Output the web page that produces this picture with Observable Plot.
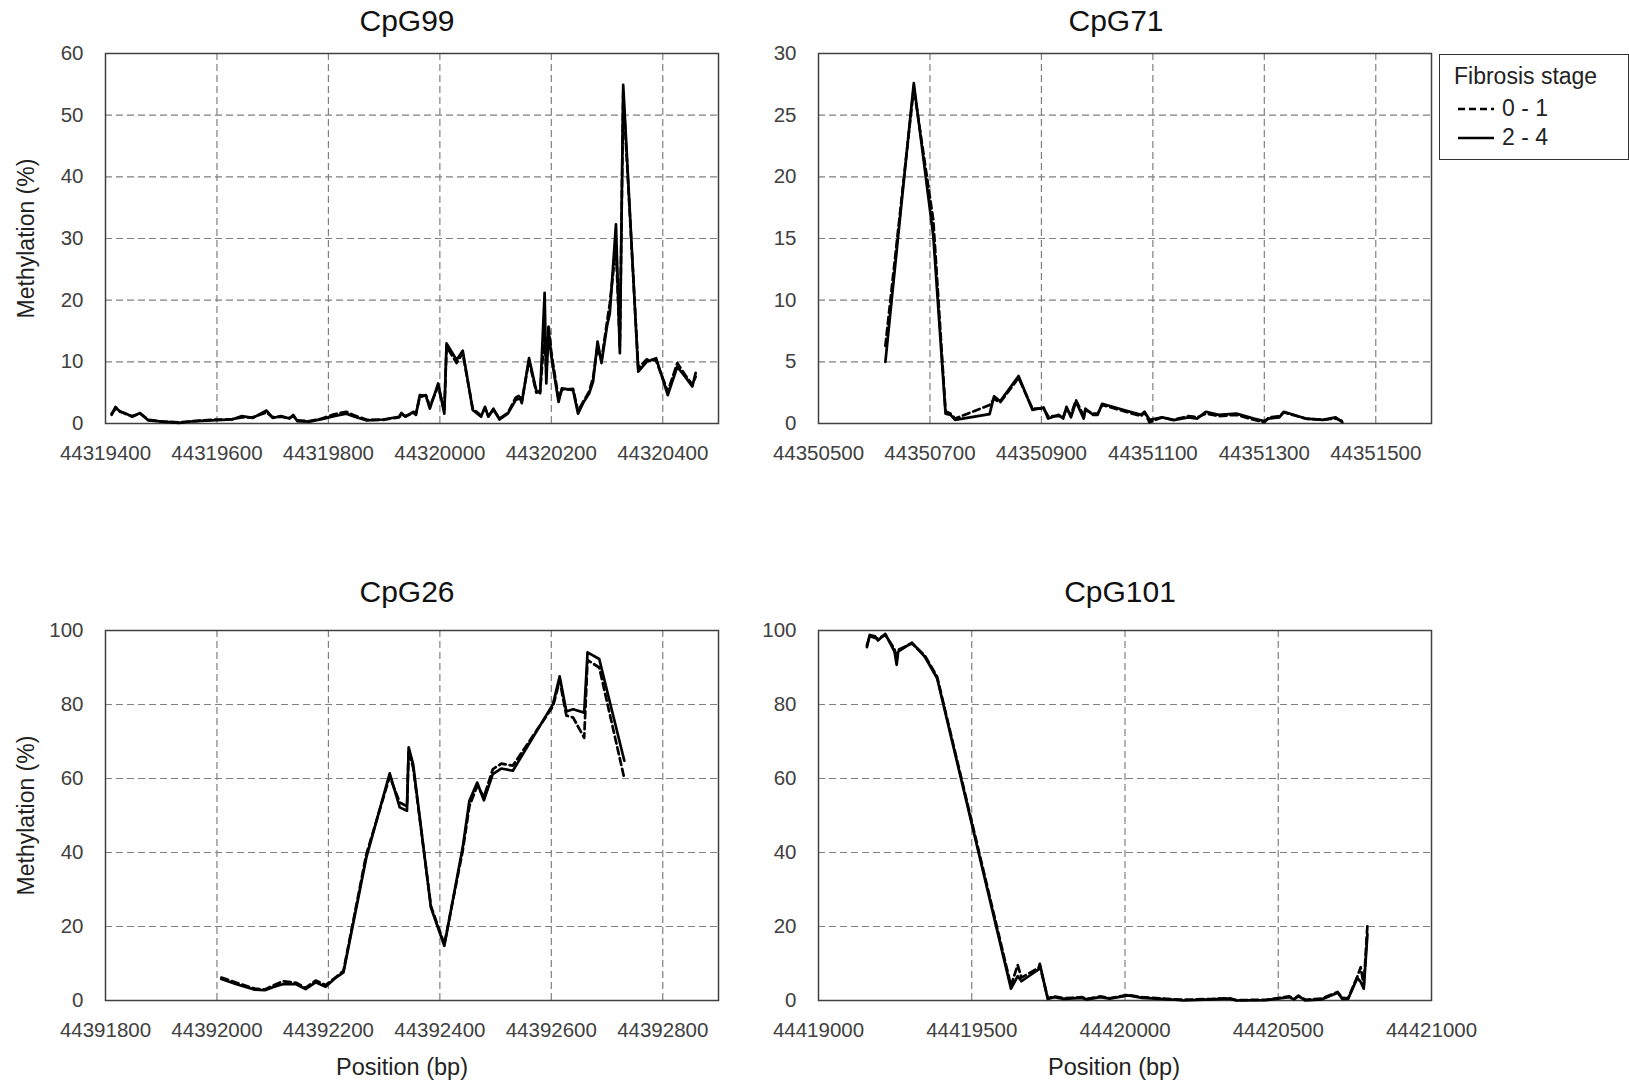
<!DOCTYPE html>
<html>
<head>
<meta charset="utf-8">
<script src="https://cdn.jsdelivr.net/npm/d3@7"></script>
<script src="https://cdn.jsdelivr.net/npm/@observablehq/plot@0.6"></script>
<style>
  html, body { margin: 0; padding: 0; background: #fff; }
  #chart { position: relative; width: 1629px; height: 1085px; font-family: "Liberation Sans", Arial, sans-serif; }
  .panel { position: absolute; }
  #legend { position: absolute; left: 1439px; top: 54px; width: 188px; height: 104px; border: 1.5px solid #333; background: #fff;
            font-family: "Liberation Sans", Arial, sans-serif; color: #222; font-size: 23px; }
  #legend .row { position: absolute; left: 0; display: flex; align-items: center; white-space: nowrap; }
</style>
</head>
<body>
<div id="chart">
  <div id="p1" class="panel" style="left:0px;top:0px"></div>
  <div id="p2" class="panel" style="left:713px;top:0px"></div>
  <div id="p3" class="panel" style="left:0px;top:577px"></div>
  <div id="p4" class="panel" style="left:713px;top:577px"></div>
  <div id="legend"></div>
</div>
<script>
// ---------- data ----------
const seriesNames = ["0 - 1", "2 - 4"];
const legendTitle = "Fibrosis stage";
const yLabel = "Methylation (%)";
const xLabel = "Position (bp)";

// CpG99
const cpg99Pos = [44319411,44319418,44319426,44319437,44319448,44319462,44319477,44319503,44319532,44319561,
  44319590,44319627,44319645,44319664,44319689,44319700,44319715,44319730,44319737,44319744,
  44319766,44319788,44319810,44319832,44319847,44319869,44319898,44319927,44319931,44319938,
  44319953,44319957,44319964,44319975,44319982,44319997,44320008,44320012,44320030,44320041,
  44320059,44320074,44320081,44320087,44320096,44320107,44320122,44320136,44320144,44320147,
  44320160,44320173,44320180,44320188,44320191,44320195,44320200,44320213,44320219,44320239,
  44320248,44320257,44320268,44320275,44320283,44320290,44320300,44320305,44320316,44320323,
  44320329,44320356,44320371,44320388,44320409,44320426,44320440,44320453,44320459];
const cpg99Early = [1.6,2.4,2.0,1.5,1.2,1.6,0.6,0.3,0.2,0.4,
  0.6,0.7,1.0,1.0,1.8,1.0,1.1,0.9,1.2,0.5,
  0.4,0.8,1.5,1.9,1.3,0.6,0.6,1.0,1.5,1.2,
  1.7,1.5,4.3,4.6,2.8,6.0,2.0,12.5,9.8,11.4,
  2.4,1.3,2.5,1.2,2.2,0.8,1.7,4.2,4.6,3.6,
  10.2,5.0,5.3,14.5,8.0,16.0,11.5,4.0,5.5,5.6,
  2.0,3.5,5.2,7.5,12.5,10.2,16.5,19.5,28.5,12.5,
  53.5,9.0,10.4,10.2,5.2,9.8,7.9,6.3,7.6];
const cpg99Late = [1.4,2.7,1.9,1.6,1.1,1.7,0.5,0.3,0.1,0.4,
  0.5,0.65,1.2,0.9,2.1,0.9,1.2,0.8,1.4,0.4,
  0.3,0.7,1.2,1.6,1.1,0.5,0.65,1.1,1.7,1.1,
  1.9,1.4,4.6,4.5,2.4,6.5,1.6,13,10.3,11.8,
  2.2,1.1,2.7,1.1,2.4,0.65,1.6,3.8,4.1,3.3,
  10.6,5.4,4.9,21.2,6.5,15.2,10.9,3.5,5.7,5.4,
  1.6,3.3,4.9,6.8,13.3,9.8,15.8,17.9,32.3,11.4,
  54.9,8.4,10,10.6,4.6,9.2,7.6,6,8.2];
const cpg99XTicks = [44319400,44319600,44319800,44320000,44320200,44320400];
const cpg99YTicks = [0,10,20,30,40,50,60];

// CpG71
const cpg71Pos = [44350620,44350671,44350706,44350728,44350737,44350745,44350807,44350815,44350826,44350859,
  44350884,44350904,44350912,44350931,44350939,44350945,44350953,44350962,44350976,44350979,
  44350993,44351001,44351009,44351048,44351079,44351085,44351094,44351117,44351137,44351164,
  44351180,44351195,44351218,44351250,44351281,44351300,44351308,44351327,44351335,44351374,
  44351405,44351428,44351440];
const cpg71Early = [6.3,27.2,16.5,1.0,0.8,0.4,1.5,2.0,1.7,3.7,
  1.2,1.2,0.6,0.6,0.5,1.2,0.7,1.9,0.6,1.1,
  0.8,0.8,1.5,1.0,0.6,0.9,0.1,0.5,0.3,0.6,
  0.5,0.8,0.6,0.7,0.3,0.1,0.5,0.6,0.9,0.4,
  0.3,0.4,0.2];
const cpg71Late = [5.0,27.6,15.2,0.8,0.7,0.3,0.76,2.2,1.8,3.85,
  1.1,1.3,0.4,0.7,0.4,1.35,0.5,1.76,0.4,1.2,
  0.7,0.7,1.6,1.1,0.7,0.95,0.3,0.5,0.27,0.5,
  0.4,0.95,0.7,0.8,0.4,0.2,0.4,0.5,0.95,0.4,
  0.3,0.5,0.1];
const cpg71XTicks = [44350500,44350700,44350900,44351100,44351300,44351500];
const cpg71YTicks = [0,5,10,15,20,25,30];

// CpG26
const cpg26Pos = [44392008,44392035,44392068,44392086,44392103,44392118,44392142,44392159,44392177,44392195,
  44392211,44392227,44392268,44392310,44392328,44392341,44392344,44392352,44392384,44392408,
  44392441,44392453,44392467,44392479,44392495,44392510,44392531,44392603,44392615,44392627,
  44392639,44392659,44392665,44392686,44392731];
const cpg26Early = [6.2,4.8,3.2,3.0,4.2,5.2,4.8,3.4,5.4,4.2,
  6.0,8.0,39.5,60.5,53.5,52.5,67.5,63.0,25.5,15.2,
  40.5,52.5,58.0,55.0,62.5,64.0,63.5,79.5,86.5,77.0,
  76.5,71.0,92.0,90.0,60.0];
const cpg26Late = [5.8,4.4,2.9,2.8,3.7,4.4,4.4,3.1,4.9,3.7,
  5.9,7.6,38.6,61.4,52.2,51.3,68.4,63.9,25.1,14.8,
  41.4,54,58.9,54.1,61.2,62.7,62.1,80.1,87.6,78.1,
  78.7,77.8,94.1,92.3,64.8];
const cpg26XTicks = [44391800,44392000,44392200,44392400,44392600,44392800];
const cpg26YTicks = [0,20,40,60,80,100];

// CpG101
const cpg101Pos = [44419158,44419167,44419185,44419194,44419218,44419248,44419255,44419260,44419305,44419347,
  44419387,44419628,44419650,44419662,44419718,44419722,44419748,44419770,44419800,44419860,
  44419875,44419920,44419950,44420010,44420056,44420161,44420191,44420281,44420341,44420363,
  44420461,44420536,44420551,44420566,44420589,44420641,44420694,44420709,44420728,44420758,
  44420769,44420779,44420791];
const cpg101Early = [96.0,98.5,98.0,97.8,98.8,95.0,92.0,94.8,96.5,93.2,
  87.5,4.0,9.6,6.2,8.8,9.5,0.6,1.1,0.6,0.9,
  0.4,1.1,0.6,1.5,0.9,0.3,0.2,0.4,0.6,0.1,
  0.2,1.1,0.4,1.3,0.2,0.5,2.3,0.7,0.6,6.5,
  9.0,4.0,20.5];
const cpg101Late = [95.5,98.8,98.4,97.3,99.1,94.3,90.7,94.3,96.7,92.9,
  87.1,3.2,6.6,5.2,8.4,9.9,0.45,0.9,0.45,0.7,
  0.3,0.9,0.5,1.4,0.7,0.2,0,0.3,0.5,0,
  0.1,0.9,0.3,1.2,0,0.3,2.1,0.45,0.45,6.1,
  5.0,3.2,17.9];
const cpg101XTicks = [44419000,44419500,44420000,44420500,44421000];
const cpg101YTicks = [0,20,40,60,80,100];

// ---------- drawing ----------
const FONT = '"Liberation Sans", Arial, sans-serif';
function panel(o) {
  const rows = o.pos.map((p, i) => ({pos: p, early: o.early[i], late: o.late[i]}));
  const [x0, x1] = o.xDomain, [y0, y1] = o.yDomain;
  const gx = o.xTicks.filter(t => t > x0 && t < x1);
  const gy = o.yTicks.filter(t => t > y0 && t < y1);
  const marks = [
    Plot.gridX(gx, {stroke: "#808080", strokeOpacity: 1, strokeWidth: 1.2, strokeDasharray: "7,4"}),
    Plot.gridY(gy, {stroke: "#808080", strokeOpacity: 1, strokeWidth: 1.2, strokeDasharray: "7,4"}),
    Plot.frame({stroke: "#404040", strokeWidth: 1.5}),
    Plot.axisX(o.xTicks, {tickSize: 0, tickPadding: 22, tickFormat: d => String(d), label: null}),
    Plot.axisY(o.yTicks, {tickSize: 0, tickPadding: 22, label: null}),
    Plot.line(rows, {x: "pos", y: "early", stroke: "#000", strokeWidth: 2.7, strokeDasharray: "7,4", strokeLinejoin: "round"}),
    Plot.line(rows, {x: "pos", y: "late", stroke: "#000", strokeWidth: 2.7, strokeLinejoin: "round"}),
    Plot.text([o.title], {text: d => d, frameAnchor: "top", dy: o.titleDy, dx: o.titleDx, fontSize: 30, fill: "#111"})
  ];
  if (o.ylabel) marks.push(Plot.text([o.ylabel], {text: d => d, frameAnchor: "left", textAnchor: "middle", dx: -79, rotate: -90, fontSize: 23, fill: "#222"}));
  if (o.xlabel) marks.push(Plot.text([o.xlabel], {text: d => d, frameAnchor: "bottom", dy: 74, dx: o.xlabelDx, fontSize: 23.5, fill: "#222"}));
  return Plot.plot({
    width: 740, height: 500,
    marginLeft: 105, marginRight: 22, marginTop: 53, marginBottom: 77,
    x: {domain: o.xDomain},
    y: {domain: o.yDomain},
    style: {fontFamily: FONT, fontSize: "20.5px", color: "#404040", background: "transparent", overflow: "visible"},
    marks
  });
}

document.getElementById("p1").append(panel({
  pos: cpg99Pos, early: cpg99Early, late: cpg99Late, xDomain: [44319400, 44320500], xTicks: cpg99XTicks,
  yDomain: [0, 60], yTicks: cpg99YTicks, title: "CpG99", titleDx: -5, titleDy: -44, ylabel: yLabel
}));
document.getElementById("p2").append(panel({
  pos: cpg71Pos, early: cpg71Early, late: cpg71Late, xDomain: [44350500, 44351600], xTicks: cpg71XTicks,
  yDomain: [0, 30], yTicks: cpg71YTicks, title: "CpG71", titleDx: -9, titleDy: -44
}));
document.getElementById("p3").append(panel({
  pos: cpg26Pos, early: cpg26Early, late: cpg26Late, xDomain: [44391800, 44392900], xTicks: cpg26XTicks,
  yDomain: [0, 100], yTicks: cpg26YTicks, title: "CpG26", titleDx: -5, titleDy: -50, ylabel: yLabel, xlabel: xLabel, xlabelDx: -10
}));
document.getElementById("p4").append(panel({
  pos: cpg101Pos, early: cpg101Early, late: cpg101Late, xDomain: [44419000, 44421000], xTicks: cpg101XTicks,
  yDomain: [0, 100], yTicks: cpg101YTicks, title: "CpG101", titleDx: -5, titleDy: -50, xlabel: xLabel, xlabelDx: -11
}));

// legend
const leg = document.getElementById("legend");
leg.innerHTML =
  `<div class="row" style="left:14px;top:8px">${legendTitle}</div>` +
  seriesNames.map((n, i) =>
    `<div class="row" style="left:18px;top:${40 + i * 29}px">` +
    `<svg width="36" height="10" style="margin-right:8px"><line x1="0" x2="36" y1="5" y2="5" stroke="#000" stroke-width="2.6" ${i === 0 ? 'stroke-dasharray="7,4"' : ''}/></svg>` +
    `<span>${n}</span></div>`).join("");
</script>
</body>
</html>
